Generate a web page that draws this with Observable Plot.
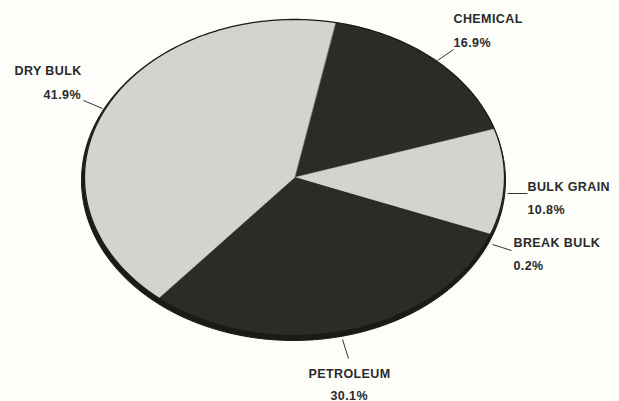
<!DOCTYPE html>
<html>
<head>
<meta charset="utf-8">
<script src="https://cdn.jsdelivr.net/npm/d3@7"></script>
<script src="https://cdn.jsdelivr.net/npm/@observablehq/plot@0.6"></script>
<style>
  html, body { margin: 0; padding: 0; background: #fdfdfa; }
  #chart svg text { letter-spacing: 0.4px; }
</style>
</head>
<body>
<div id="chart"></div>
<script>
// ---- data ----
const categories = ["CHEMICAL", "BULK GRAIN", "BREAK BULK", "PETROLEUM", "DRY BULK"];
const shares = [16.9, 10.8, 0.2, 30.1, 41.9];
const shareLabels = ["16.9%", "10.8%", "0.2%", "30.1%", "41.9%"];
const shades = ["#2c2c27", "#d4d4ce", "#2c2c27", "#2c2c27", "#d4d4ce"];

// ---- layout (pixel space of the 619x401 frame) ----
const cx = 294, cy = 177, rx = 210, ry = 158;
const rim = {cx: 293, cy: 180, rx: 212, ry: 160};
const startAngle = 0.196;
const labelLayout = [
  {nx: 453, ny: 18, px: 453, py: 42, l: [437, 60, 453, 49]},
  {nx: 527, ny: 186, px: 527, py: 209, l: [507, 193, 527, 193]},
  {nx: 513, ny: 242, px: 513, py: 265, l: [492, 244, 511, 250]},
  {nx: 308, ny: 373, px: 330, py: 395, l: [342, 339, 348, 358]},
  {nx: 14, ny: 70, px: 43, py: 94, l: [83, 100, 102, 108]}
];

const arcs = d3.pie().sort(null).startAngle(startAngle).endAngle(startAngle + 2 * Math.PI)(shares);
const slicePts = [];
arcs.forEach((a, i) => {
  slicePts.push({name: categories[i], x: cx, y: cy});
  const n = Math.max(2, Math.ceil((a.endAngle - a.startAngle) / (Math.PI / 180)));
  for (let k = 0; k <= n; k++) {
    const t = a.startAngle + (a.endAngle - a.startAngle) * k / n;
    slicePts.push({name: categories[i], x: cx + rx * Math.sin(t), y: cy - ry * Math.cos(t)});
  }
});
function ellipse(c) {
  const pts = [];
  for (let k = 0; k < 360; k++) {
    const t = k * Math.PI / 180;
    pts.push({x: c.cx + c.rx * Math.sin(t), y: c.cy - c.ry * Math.cos(t)});
  }
  return pts;
}
const rimPts = ellipse(rim);
const facePts = ellipse({cx, cy, rx, ry});

const labels = categories.map((c, i) => ({name: c, pct: shareLabels[i], ...labelLayout[i]}));

const chart = Plot.plot({
  width: 619, height: 401,
  marginTop: 0, marginRight: 0, marginBottom: 0, marginLeft: 0,
  x: {domain: [0, 619], range: [0, 619], axis: null},
  y: {domain: [0, 401], range: [0, 401], axis: null},
  color: {domain: categories, range: shades},
  style: {background: "#fdfdfa", fontFamily: "'Liberation Sans', Arial, sans-serif"},
  marks: [
    Plot.line(rimPts, {x: "x", y: "y", curve: "linear-closed", fill: "#1a1a17", stroke: "#1a1a17", strokeWidth: 1}),
    Plot.line(slicePts, {x: "x", y: "y", z: "name", fill: "name", stroke: "name", strokeWidth: 0.5, curve: "linear-closed"}),
    Plot.line(facePts, {x: "x", y: "y", curve: "linear-closed", stroke: "#1a1a17", strokeWidth: 1.3}),
    Plot.link(labels, {x1: d => d.l[0], y1: d => d.l[1], x2: d => d.l[2], y2: d => d.l[3], stroke: "#333", strokeWidth: 1}),
    Plot.text(labels, {x: "nx", y: "ny", text: "name", textAnchor: "start", fontSize: 12.5, fontWeight: "bold", fill: "#2a2a2a"}),
    Plot.text(labels, {x: "px", y: "py", text: "pct", textAnchor: "start", fontSize: 12.5, fontWeight: "bold", fill: "#2a2a2a"})
  ]
});
document.getElementById("chart").append(chart);
</script>
</body>
</html>
